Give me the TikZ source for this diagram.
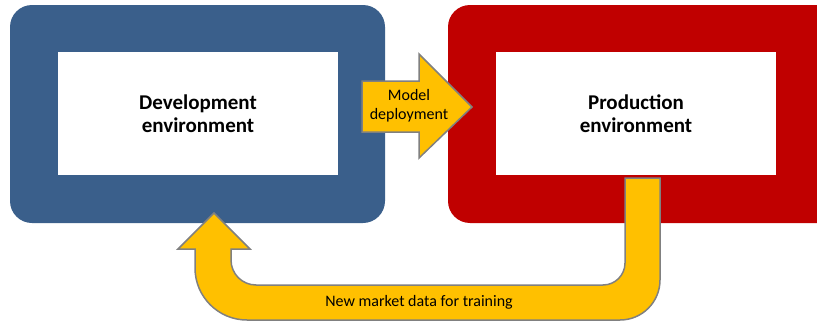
\documentclass[tikz,border=0pt]{standalone}
\usepackage{fontspec}
\setmainfont{Carlito}
\definecolor{devblue}{RGB}{58,95,139}
\definecolor{prodred}{RGB}{192,0,0}
\definecolor{arrowgold}{RGB}{255,192,0}
\definecolor{rimgray}{RGB}{128,128,128}
\tikzset{
	envbox/.style={fill=white, inner sep=0pt, minimum width=280, minimum height=123, align=center, font=\fontsize{21}{23}\selectfont\bfseries},
	blockarrow/.style={fill=arrowgold, draw=rimgray, line width=1.5pt, line join=miter},
	arrowtext/.style={align=center, inner sep=0pt, font=\fontsize{16}{19}\selectfont}
}

\begin{document}
\begin{tikzpicture}[x=1pt, y=-1pt]
		%%%%% START %%%%%
		\useasboundingbox (0, 0) rectangle (817, 324);
		\clip (0, 0) rectangle (817, 324);
		
		\draw[fill=devblue, draw=none, rounded corners=22] (10, 5) rectangle (385, 223);
		\node[envbox] (dev) at (198, 113.5) {Development\\environment};
		
		\draw[fill=prodred, draw=none, rounded corners=22] (448, 5) rectangle (840, 223);
		\node[envbox] (prod) at (636, 113.5) {Production\\environment};
		
		\draw[blockarrow] (362, 81) -- (419, 81) -- (419, 54) -- (472, 107) -- (419, 158) -- (419, 132) -- (362, 132) -- cycle;
		\node[arrowtext] (deploy) at (409, 106) {Model\\deployment};
		
		\draw[blockarrow] (625, 178) -- (660, 178) -- (660, 280) arc (0:90:40) -- (247, 320) arc (90:180:52) -- (195, 249) -- (178, 249) -- (214, 213) -- (250, 249) -- (231, 249) -- (231, 260) arc (180:90:25) -- (603, 285) arc (90:0:22) -- cycle;
		\node[arrowtext] (feedback) at (419, 302) {New market data for training};
		
		%%%%% END %%%%%
	\end{tikzpicture}
\end{document}
